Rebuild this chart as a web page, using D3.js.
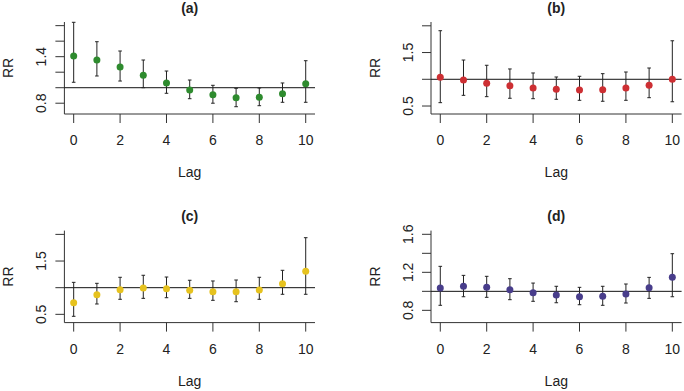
<!DOCTYPE html>
<html>
<head>
<meta charset="utf-8">
<script src="https://cdn.jsdelivr.net/npm/d3@7"></script>
<style>
  body { margin: 0; background: #fff; }
  text { font-family: "Liberation Sans", Arial, sans-serif; fill: #222; }
</style>
</head>
<body>
<svg id="chart"></svg>
<script>
// lags 0..10
const lags = [0, 1, 2, 3, 4, 5, 6, 7, 8, 9, 10];
const xTicks = [0, 2, 4, 6, 8, 10];

// (a)
const rrA   = [1.408, 1.357, 1.267, 1.160, 1.061, 0.970, 0.910, 0.871, 0.876, 0.923, 1.052];
const lowA  = [1.070, 1.151, 1.086, 1.000, 0.928, 0.858, 0.800, 0.755, 0.768, 0.812, 0.812];
const highA = [1.843, 1.593, 1.473, 1.357, 1.215, 1.099, 1.031, 0.992, 0.996, 1.061, 1.348];

// (b)
const rrB   = [1.037, 0.987, 0.925, 0.880, 0.837, 0.813, 0.800, 0.806, 0.837, 0.888, 1.000];
const lowB  = [0.563, 0.700, 0.675, 0.645, 0.637, 0.626, 0.607, 0.589, 0.607, 0.656, 0.580];
const highB = [1.908, 1.360, 1.262, 1.193, 1.118, 1.043, 1.056, 1.105, 1.136, 1.211, 1.720];

// (c)
const rrC   = [0.719, 0.869, 0.962, 0.994, 0.981, 0.950, 0.925, 0.925, 0.956, 1.075, 1.308];
const lowC  = [0.463, 0.694, 0.782, 0.800, 0.812, 0.800, 0.763, 0.737, 0.782, 0.876, 0.876];
const highC = [1.100, 1.082, 1.195, 1.233, 1.200, 1.139, 1.126, 1.144, 1.195, 1.326, 1.938];

// (d)
const rrD   = [1.035, 1.053, 1.042, 1.017, 0.985, 0.961, 0.943, 0.947, 0.972, 1.038, 1.147];
const lowD  = [0.853, 0.943, 0.937, 0.912, 0.895, 0.880, 0.859, 0.853, 0.877, 0.926, 0.943];
const highD = [1.263, 1.168, 1.158, 1.133, 1.087, 1.053, 1.042, 1.053, 1.077, 1.147, 1.396];

const yTicksA = [0.8, 1.0, 1.2, 1.4, 1.6, 1.8];
const yTicksB = [0.5, 1.0, 1.5, 2.0];
const yTicksD = [0.8, 1.0, 1.2, 1.4, 1.6];
const yLabelsA = [0.8, 1.4];
const yLabelsB = [0.5, 1.5];
const yLabelsD = [0.8, 1.2, 1.6];

const width = 684, height = 391;
const plot = {left: 64.4, right: 315, top: 22, bottom: 114};

const panels = [
  {title: "(a)", dx: 0,     dy: 0,     rr: rrA, low: lowA, high: highA, color: "#2e8b2e", yDomain: [0.661, 1.847], ticks: yTicksA, labels: yLabelsA},
  {title: "(b)", dx: 366.6, dy: 0,     rr: rrB, low: lowB, high: highB, color: "#cd2f33", yDomain: [0.351, 2.071], ticks: yTicksB, labels: yLabelsB},
  {title: "(c)", dx: 0,     dy: 208.6, rr: rrC, low: lowC, high: highC, color: "#e6c21e", yDomain: [0.345, 2.071], ticks: yTicksB, labels: yLabelsB},
  {title: "(d)", dx: 366.6, dy: 208.6, rr: rrD, low: lowD, high: highD, color: "#483d8b", yDomain: [0.671, 1.639], ticks: yTicksD, labels: yLabelsD}
];

const svg = d3.select("#chart")
  .attr("width", width)
  .attr("height", height);

const x = d3.scaleLinear().domain([-0.4, 10.4]).range([plot.left, plot.right]);
const fmt = d3.format(".1f");

panels.forEach(p => {
  const g = svg.append("g").attr("transform", `translate(${p.dx}, ${p.dy})`);
  const y = d3.scaleLinear().domain(p.yDomain).range([plot.bottom, plot.top]);
  const rows = lags.map((l, i) => ({lag: l, rr: p.rr[i], low: p.low[i], high: p.high[i]}));

  // axes box (L shape)
  g.append("line")
    .attr("x1", plot.left).attr("x2", plot.left)
    .attr("y1", plot.top).attr("y2", plot.bottom)
    .style("stroke", "#333");
  g.append("line")
    .attr("x1", plot.left).attr("x2", plot.right)
    .attr("y1", plot.bottom).attr("y2", plot.bottom)
    .style("stroke", "#333");

  // x ticks
  g.selectAll(".xtick").data(xTicks).enter().append("line")
    .attr("class", "xtick")
    .attr("x1", d => x(d)).attr("x2", d => x(d))
    .attr("y1", plot.bottom).attr("y2", plot.bottom + 9)
    .style("stroke", "#333");
  g.selectAll(".xlab").data(xTicks).enter().append("text")
    .attr("class", "xlab")
    .attr("x", d => x(d)).attr("y", plot.bottom + 31)
    .attr("text-anchor", "middle")
    .style("font-size", "14px")
    .text(d => d);

  // y ticks
  g.selectAll(".ytick").data(p.ticks).enter().append("line")
    .attr("class", "ytick")
    .attr("x1", plot.left - 9).attr("x2", plot.left)
    .attr("y1", d => y(d)).attr("y2", d => y(d))
    .style("stroke", "#333");
  g.selectAll(".ylab").data(p.labels).enter().append("text")
    .attr("class", "ylab")
    .attr("transform", d => `translate(46, ${y(d)}) rotate(-90)`)
    .attr("text-anchor", "middle")
    .style("font-size", "14px")
    .text(d => fmt(d));

  // reference line at RR = 1
  g.append("line")
    .attr("x1", plot.left).attr("x2", plot.right)
    .attr("y1", y(1)).attr("y2", y(1))
    .style("stroke", "#111");

  // confidence intervals
  g.selectAll(".ci").data(rows).enter().append("line")
    .attr("class", "ci")
    .attr("x1", d => x(d.lag)).attr("x2", d => x(d.lag))
    .attr("y1", d => y(d.low)).attr("y2", d => y(d.high))
    .style("stroke", "#222");
  g.selectAll(".capLow").data(rows).enter().append("line")
    .attr("class", "capLow")
    .attr("x1", d => x(d.lag) - 1.8).attr("x2", d => x(d.lag) + 1.8)
    .attr("y1", d => y(d.low)).attr("y2", d => y(d.low))
    .style("stroke", "#222");
  g.selectAll(".capHigh").data(rows).enter().append("line")
    .attr("class", "capHigh")
    .attr("x1", d => x(d.lag) - 1.8).attr("x2", d => x(d.lag) + 1.8)
    .attr("y1", d => y(d.high)).attr("y2", d => y(d.high))
    .style("stroke", "#222");

  // points
  g.selectAll(".pt").data(rows).enter().append("circle")
    .attr("class", "pt")
    .attr("cx", d => x(d.lag))
    .attr("cy", d => y(d.rr))
    .attr("r", 3.5)
    .style("fill", p.color);

  // labels
  g.append("text")
    .attr("x", (plot.left + plot.right) / 2).attr("y", 12.5)
    .attr("text-anchor", "middle")
    .style("font-size", "14px").style("font-weight", "bold")
    .text(p.title);
  g.append("text")
    .attr("x", (plot.left + plot.right) / 2).attr("y", 177)
    .attr("text-anchor", "middle")
    .style("font-size", "14px")
    .text("Lag");
  g.append("text")
    .attr("transform", `translate(13, ${(plot.top + plot.bottom) / 2}) rotate(-90)`)
    .attr("text-anchor", "middle")
    .style("font-size", "14px")
    .text("RR");
});
</script>
</body>
</html>
